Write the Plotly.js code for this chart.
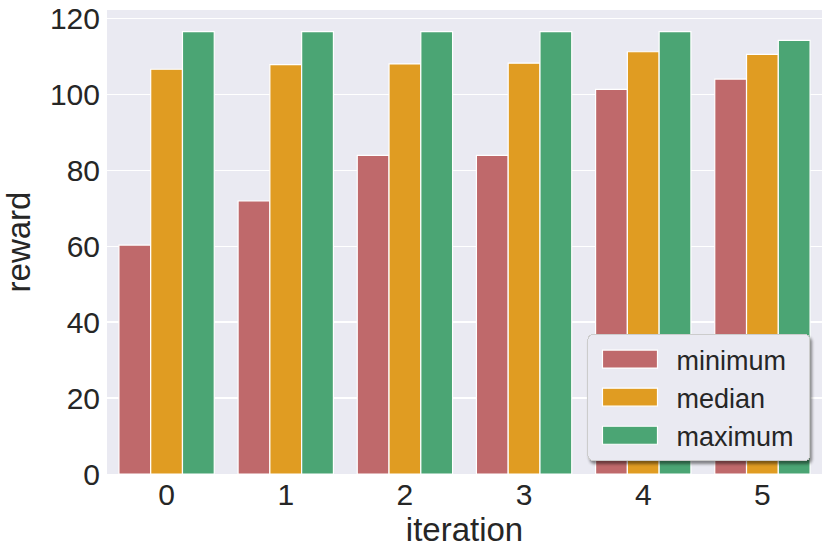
<!DOCTYPE html>
<html>
<head>
<meta charset="utf-8">
<script src="https://cdn.plot.ly/plotly-3.0.1.min.js"></script>
<style>
  html, body { margin: 0; padding: 0; background: #fff; }
  #chart { width: 830px; height: 556px; }
</style>
</head>
<body>
<div id="chart"></div>
<script>
const iterations = ['0', '1', '2', '3', '4', '5'];
const minimumReward = [60.3, 71.9, 83.9, 83.9, 101.3, 104.0];
const medianReward = [106.6, 107.8, 108.0, 108.2, 111.2, 110.5];
const maximumReward = [116.5, 116.5, 116.5, 116.5, 116.5, 114.2];
const yTicks = [0, 20, 40, 60, 80, 100, 120];

const makeBar = (name, values, color) => ({
    x: iterations,
    y: values,
    name: name,
    type: 'bar',
    marker: {
        color: color,
        line: { color: '#ffffff', width: 1.2 }
    },
    hoverinfo: 'x+y+name'
});

const data = [
    makeBar('minimum', minimumReward, '#bf696b'),
    makeBar('median', medianReward, '#e09c22'),
    makeBar('maximum', maximumReward, '#4ba574')
];

const layout = {
    width: 830,
    height: 556,
    margin: { l: 107, r: 8, t: 10, b: 82 },
    paper_bgcolor: '#ffffff',
    plot_bgcolor: '#eaeaf2',
    font: { family: 'Liberation Sans, Arial, sans-serif', color: '#262626', size: 30 },
    barmode: 'group',
    bargap: 0.2,
    bargroupgap: 0,
    xaxis: {
        type: 'category',
        showgrid: false,
        zeroline: false,
        showline: false,
        ticks: '',
        tickfont: { size: 30 },
        title: { text: 'iteration', font: { size: 33 }, standoff: 4 }
    },
    yaxis: {
        range: [0, 122.2],
        tickvals: yTicks,
        ticktext: yTicks.map(String),
        showgrid: true,
        gridcolor: '#ffffff',
        gridwidth: 1.3,
        zeroline: false,
        showline: false,
        ticks: '',
        ticklabelstandoff: 6,
        tickfont: { size: 30 },
        title: { text: 'reward', font: { size: 33 }, standoff: 10 }
    },
    legend: {
        x: 0.672,
        y: 0.028,
        xanchor: 'left',
        yanchor: 'bottom',
        bgcolor: '#eaeaf2',
        bordercolor: '#cccccc',
        borderwidth: 1,
        font: { size: 27, color: '#262626' },
        itemwidth: 78,
        tracegroupgap: 0
    },
    showlegend: true
};

Plotly.newPlot('chart', data, layout, { displayModeBar: false, staticPlot: true }).then(() => {
    // matplotlib-like legend: rounded frame, soft shadow, wide swatches
    const bg = document.querySelector('.legend .bg');
    if (bg) {
        bg.setAttribute('rx', 5);
        bg.setAttribute('ry', 5);
        bg.setAttribute('width', parseFloat(bg.getAttribute('width')) + 10);
        bg.style.filter = 'drop-shadow(2px 3px 1.5px rgba(0,0,0,0.45))';
    }
    document.querySelectorAll('.legend .legendpoints path').forEach((p) => {
        p.setAttribute('d', 'M-30,9H25V-9H-30Z');
    });
});
</script>
</body>
</html>
